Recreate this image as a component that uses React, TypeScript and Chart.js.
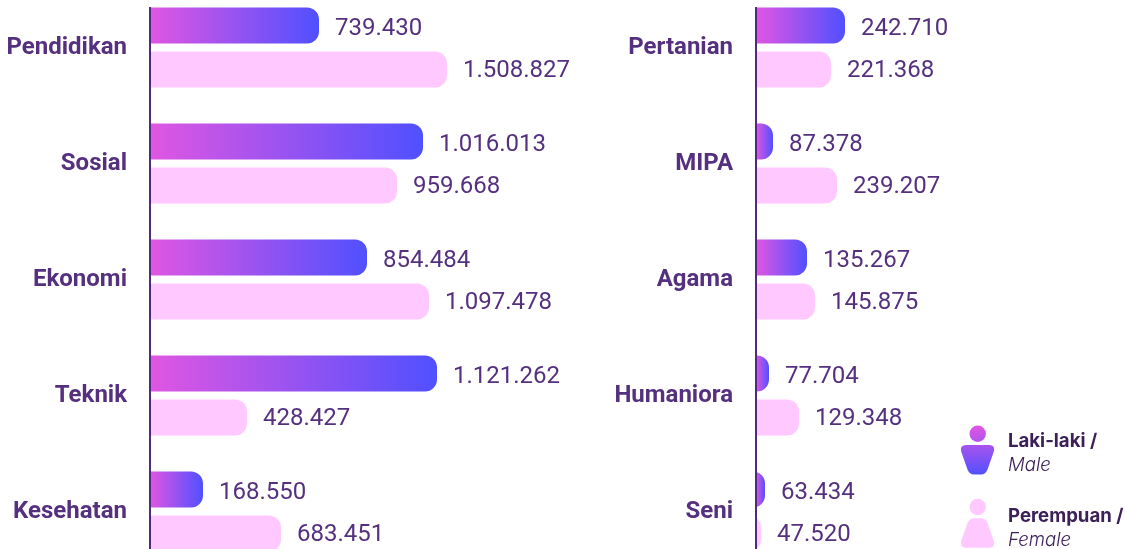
import React, { useEffect, useRef } from "react";
import { Chart, registerables } from "chart.js";

Chart.register(...registerables);

// Left panel
const leftCategories = ["Pendidikan", "Sosial", "Ekonomi", "Teknik", "Kesehatan"];
const leftMaleValues = [739430, 1016013, 854484, 1121262, 168550];
const leftFemaleValues = [1508827, 959668, 1097478, 428427, 683451];
// The reference's bars are not proportional to their printed numbers: these are the lengths as drawn.
const leftMaleDrawn = [169, 273, 217, 287, 53];
const leftFemaleDrawn = [297, 247, 279, 97, 131];

// Right panel
const rightCategories = ["Pertanian", "MIPA", "Agama", "Humaniora", "Seni"];
const rightMaleValues = [242710, 87378, 135267, 77704, 63434];
const rightFemaleValues = [221368, 239207, 145875, 129348, 47520];
const rightMaleDrawn = [89, 17, 51, 13, 9];
const rightFemaleDrawn = [75, 81, 59, 43, 5];

const PURPLE = "#54307f";
const PINK = "#ffc8ff";
const GRAD_A = "#e056e2";
const GRAD_B = "#5050ff";

const fmt = (v: number) => String(v).replace(/\B(?=(\d{3})+(?!\d))/g, ".");

const valueLabels = {
  id: "valueLabels",
  afterDatasetsDraw(chart: any) {
    const { ctx } = chart;
    ctx.save();
    ctx.font = "400 24px Roboto";
    ctx.fillStyle = PURPLE;
    ctx.textAlign = "left";
    ctx.textBaseline = "middle";
    chart.data.datasets.forEach((ds: any, di: number) => {
      chart.getDatasetMeta(di).data.forEach((bar: any, i: number) => {
        ctx.fillText(fmt(ds.printed[i]), bar.x + 16, bar.y + (di === 0 ? 3.5 : 1.5));
      });
    });
    ctx.restore();
  },
};

function Panel({ left, width, axisAt, categories, male, female, maleValues, femaleValues }: any) {
  const ref = useRef<HTMLCanvasElement>(null);
  useEffect(() => {
    const chart = new Chart(ref.current as HTMLCanvasElement, {
      type: "bar",
      plugins: [valueLabels],
      data: {
        labels: categories,
        datasets: [
          {
            data: male,
            printed: maleValues,
            base: -20,
            backgroundColor: (c: any) => {
              const { chart: ch } = c;
              if (!ch.chartArea || c.raw === undefined) return GRAD_A;
              const x0 = ch.scales.x.getPixelForValue(0);
              const x1 = ch.scales.x.getPixelForValue(c.raw);
              const g = ch.ctx.createLinearGradient(x0, 0, x1, 0);
              g.addColorStop(0, GRAD_A);
              g.addColorStop(1, GRAD_B);
              return g;
            },
          },
          { data: female, printed: femaleValues, base: -20, backgroundColor: PINK },
        ] as any,
      },
      options: {
        animation: false,
        responsive: false,
        indexAxis: "y",
        layout: { padding: { top: 0.5, bottom: 1.5, left: 0, right: 0 } },
        datasets: { bar: { categoryPercentage: 88 / 116, barPercentage: 36 / 44, borderSkipped: "start", borderRadius: { topRight: 12, bottomRight: 12, topLeft: 0, bottomLeft: 0 } } } as any,
        plugins: { legend: { display: false }, tooltip: { enabled: false }, title: { display: false } },
        scales: {
          x: { display: false, min: 0, max: width - axisAt, grid: { display: false } },
          y: {
            afterFit: (s: any) => { s.width = axisAt; s.paddingTop = 0; s.paddingBottom = 0; },
            grid: { display: false, drawTicks: false },
            border: { display: true, color: "#4f2a7f", width: 2, z: 1 },
            ticks: { color: "#54307f", font: { family: "Roboto", size: 24, weight: "700" }, padding: 23, labelOffset: 0.5, autoSkip: false },
          },
        },
      } as any,
    });
    return () => chart.destroy();
  }, []);
  return (
    <div style={{ position: "absolute", left, top: 7, width, height: 542, overflow: "hidden" }}>
      <canvas ref={ref} width={width} height={582} style={{ position: "absolute", left: 0, top: -18, width, height: 582 }} />
    </div>
  );
}

function Legend() {
  const text = { fontFamily: "Inter", fill: "#3c2058" };
  return (
    <svg width={1126} height={549} style={{ position: "absolute", left: 0, top: 0 }}>
      <defs>
        <linearGradient id="mg" gradientUnits="userSpaceOnUse" x1="0" y1="426" x2="0" y2="475">
          <stop offset="0" stopColor={GRAD_A} />
          <stop offset="1" stopColor={GRAD_B} />
        </linearGradient>
      </defs>
      <circle cx={977.7} cy={433.8} r={8.2} fill="url(#mg)" />
      <path d="M966 445H989.5Q995 445 994 451L987.5 469.5Q985.5 474.5 981 474.5H974Q969.5 474.5 967.5 469.5L961 451Q960 445 966 445Z" fill="url(#mg)" />
      <circle cx={977.7} cy={507} r={8.2} fill={PINK} />
      <path d="M974 518.3H981Q985.5 518.3 987.5 523L994 541.5Q995 547.7 989.5 547.7H966Q960 547.7 961 541.5L967.5 523Q969.5 518.3 974 518.3Z" fill={PINK} />
      <text x={1008} y={446.5} style={{ ...text, fontSize: 18.6, fontWeight: 700 }}>Laki-laki /</text>
      <text x={1008} y={470.5} style={{ ...text, fontSize: 18.6, fontWeight: 300, fontStyle: "italic" }}>Male</text>
      <text x={1008} y={522} style={{ ...text, fontSize: 18.6, fontWeight: 700 }}>Perempuan /</text>
      <text x={1008} y={546} style={{ ...text, fontSize: 18.6, fontWeight: 300, fontStyle: "italic" }}>Female</text>
    </svg>
  );
}

export default function App() {
  return (
    <div style={{ position: "fixed", left: 0, top: 0, width: 1126, height: 549, overflow: "hidden", background: "#fff" }}>
      <Panel left={0} width={600} axisAt={150} categories={leftCategories} male={leftMaleDrawn} female={leftFemaleDrawn} maleValues={leftMaleValues} femaleValues={leftFemaleValues} />
      <Panel left={600} width={400} axisAt={156} categories={rightCategories} male={rightMaleDrawn} female={rightFemaleDrawn} maleValues={rightMaleValues} femaleValues={rightFemaleValues} />
      <Legend />
    </div>
  );
}
